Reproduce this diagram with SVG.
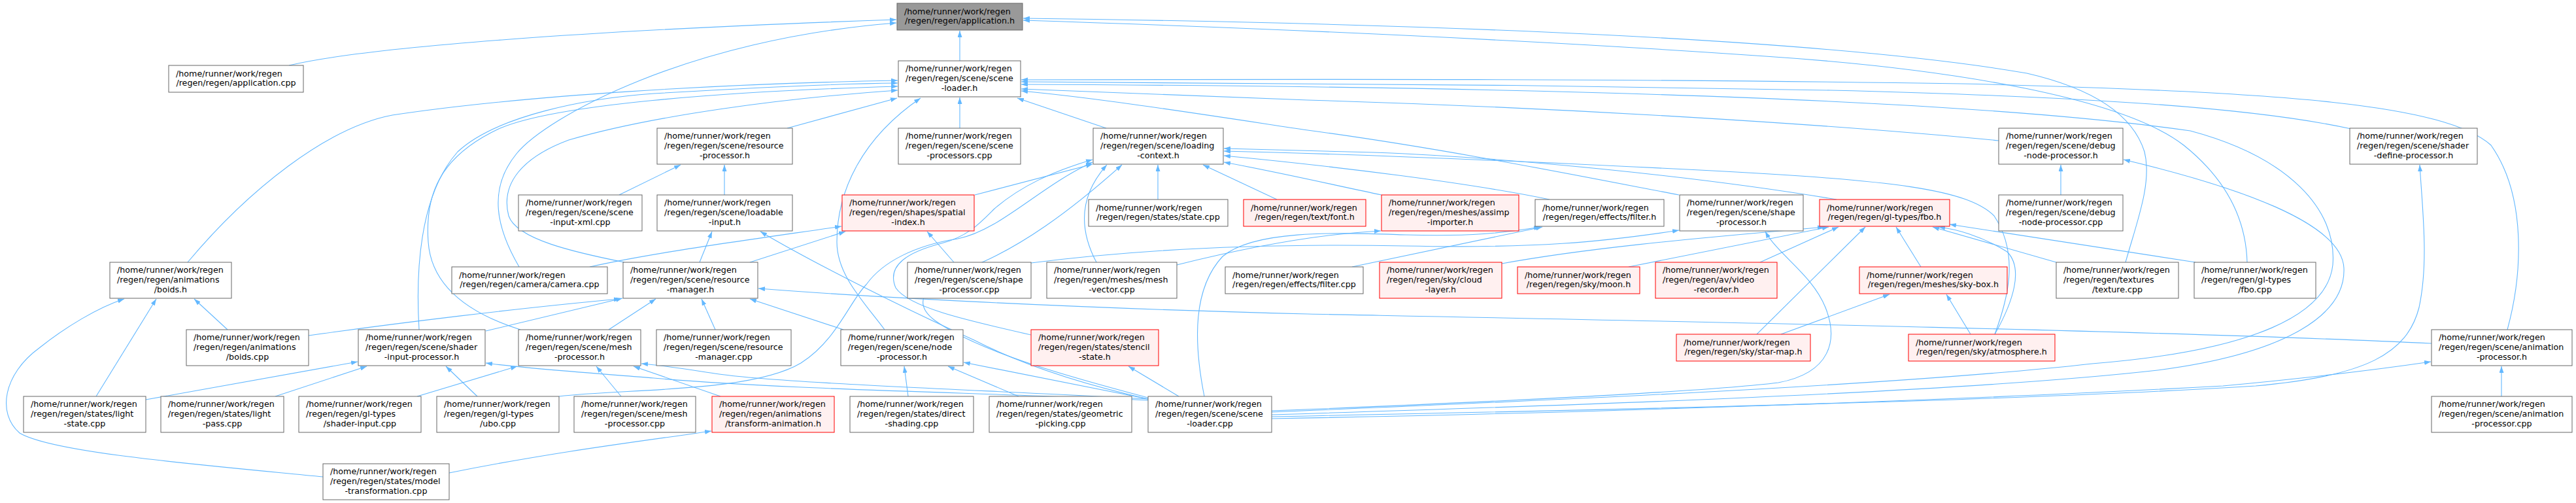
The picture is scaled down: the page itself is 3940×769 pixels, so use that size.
<svg xmlns="http://www.w3.org/2000/svg" width="3940" height="769" viewBox="0 0 3940 769">
<style>
.n rect{fill:#fff;stroke:#666;stroke-width:1}
.r rect{fill:#fff0f0;stroke:#f00;stroke-width:1}
.root rect{fill:#999;stroke:#666;stroke-width:1}
text{font-family:"DejaVu Sans","Liberation Sans",sans-serif;font-size:12.7px;fill:#000}
.c{text-anchor:middle}
#edges>path{fill:none;stroke:#63b8ff;stroke-width:1.1;marker-end:url(#ah)}
</style>
<defs>
<marker id="ah" viewBox="0 0 10 7" refX="10" refY="3.5" markerWidth="10" markerHeight="7" orient="auto" markerUnits="userSpaceOnUse"><path d="M0,0 L10,3.5 L0,7 z" fill="#63b8ff"/></marker>
</defs>
<rect width="3940" height="769" fill="#fff"/>
<g id="edges">
<path d="M442,100 C560,72 900,46 1371,30"/>
<path d="M794,408 C760,350 745,290 790,235 C835,180 1050,60 1371,35"/>
<path d="M1468,93 L1468,47"/>
<path d="M3251,401 C3268,340 3292,280 3280,232 C3262,175 3200,135 3100,112 C2800,60 2200,36 1565,28"/>
<path d="M3437,401 C3435,330 3400,270 3340,222 C3250,152 3000,106 2700,86 C2300,58 1900,42 1565,31"/>
<path d="M287,401 C380,290 500,195 600,176 C800,146 1100,128 1373,123"/>
<path d="M641,504 C636,420 640,300 700,232 C760,176 900,150 1000,143 C1150,134 1280,128 1373,127"/>
<path d="M796,504 C720,480 660,440 655,370 C650,300 670,240 765,196 C850,160 1100,140 1373,132"/>
<path d="M955,401 C880,386 790,366 778,330 C765,280 800,240 870,214 C1000,176 1200,150 1373,138"/>
<path d="M1204,196 L1372,150"/>
<path d="M1353,504 C1320,460 1280,420 1280,370 C1280,290 1320,210 1408,150"/>
<path d="M1468,196 L1468,149"/>
<path d="M1692,196 L1556,150"/>
<path d="M3835,504 C3858,420 3865,300 3810,222 C3740,160 3500,140 3000,128 C2500,120 2000,121 1562,122"/>
<path d="M3596,197 C3450,165 3200,148 2800,138 C2400,130 1900,126 1562,125"/>
<path d="M3057,215 C2800,190 2400,165 2000,153 C1800,146 1650,140 1562,136"/>
<path d="M1945,630 C2300,615 2900,590 3200,556 C3450,536 3560,480 3568,405 C3575,320 3500,240 3350,200 C3000,150 2300,132 1562,129"/>
<path d="M2568,298 C2380,262 2200,226 2000,199 C1820,172 1680,150 1562,139"/>
<path d="M1945,634 C2400,620 3000,600 3300,566 C3500,540 3588,480 3585,410 C3582,340 3420,285 3248,244"/>
<path d="M1945,637 C2500,626 3100,612 3450,590 C3620,575 3682,540 3700,470 C3715,400 3705,320 3701,252"/>
<path d="M1945,640 C2400,632 3000,612 3400,590 C3550,576 3650,563 3718,553"/>
<path d="M1945,628 C2200,618 2600,600 2720,585 C2800,570 2812,520 2792,470 C2772,420 2720,390 2700,354"/>
<path d="M1842,606 C1825,520 1825,440 1870,392 C1920,350 2050,356 2150,359 C2250,362 2300,356 2356,347"/>
<path d="M1800,405 C1900,380 2010,358 2112,353"/>
<path d="M855,606 C960,594 1150,600 1225,555 C1280,520 1300,460 1325,435 C1350,400 1400,375 1465,365 C1530,352 1590,285 1671,248"/>
<path d="M1577,512 C1480,490 1390,470 1370,440 C1355,405 1390,385 1440,372 C1480,362 1500,340 1520,320 C1560,285 1610,262 1671,244"/>
<path d="M1491,298 L1671,251"/>
<path d="M1677,401 C1650,350 1650,300 1693,252"/>
<path d="M1756,608 C1650,580 1500,540 1430,490 C1390,460 1420,430 1480,410 C1560,380 1640,320 1716,252"/>
<path d="M1771,305 L1771,252"/>
<path d="M1953,305 L1840,252"/>
<path d="M2809,305 C2600,270 2300,240 2100,233 C2000,230 1930,228 1872,227"/>
<path d="M3051,511 C3070,460 3090,390 3050,330 C3010,290 2900,275 2600,260 C2300,245 2050,235 1872,231"/>
<path d="M2370,305 C2250,280 2050,255 1872,238"/>
<path d="M2113,298 C2050,285 1950,262 1872,248"/>
<path d="M947,298 L1041,252"/>
<path d="M1108,298 L1108,252"/>
<path d="M1070,401 L1089,354"/>
<path d="M1756,610 C1650,586 1560,556 1490,520 C1380,470 1240,400 1163,354"/>
<path d="M902,408 C1000,386 1150,366 1287,346"/>
<path d="M1147,401 L1293,354"/>
<path d="M1459,401 L1418,354"/>
<path d="M348,504 L297,457"/>
<path d="M147,606 L239,457"/>
<path d="M494,729 C300,710 80,692 30,662 C-5,632 5,572 60,532 C100,500 150,470 190,457"/>
<path d="M472,513 C600,495 800,470 949,457"/>
<path d="M743,506 L952,456"/>
<path d="M931,504 L1003,457"/>
<path d="M1094,504 L1073,457"/>
<path d="M1290,504 L1147,457"/>
<path d="M3719,525 C3300,505 2500,490 2000,480 C1600,470 1300,452 1160,441"/>
<path d="M223,611 L547,553"/>
<path d="M421,606 L561,560"/>
<path d="M730,606 L682,560"/>
<path d="M1756,612 C1500,600 1200,596 1000,578 C900,570 800,563 743,555"/>
<path d="M638,606 L791,560"/>
<path d="M950,606 L912,560"/>
<path d="M1102,606 L969,560"/>
<path d="M1756,610 C1500,596 1200,586 1100,572 C1040,563 1010,558 981,556"/>
<path d="M687,723 C850,690 1000,672 1088,659"/>
<path d="M1389,606 L1383,560"/>
<path d="M1558,606 L1450,560"/>
<path d="M1756,610 L1474,554"/>
<path d="M1803,606 L1726,560"/>
<path d="M3152,298 L3152,252"/>
<path d="M3826,606 L3826,560"/>
<path d="M2068,408 L2359,347"/>
<path d="M1577,402 C1750,380 1950,372 2150,376 C2350,380 2450,370 2568,352"/>
<path d="M2297,403 C2450,375 2650,360 2790,347"/>
<path d="M2491,408 L2797,347"/>
<path d="M2692,401 L2812,347"/>
<path d="M2687,511 L2853,347"/>
<path d="M2938,408 L2900,347"/>
<path d="M3051,511 C3080,460 3095,410 3070,385 C3030,360 2990,350 2965,347"/>
<path d="M3145,401 L2956,347"/>
<path d="M3358,401 L2982,343"/>
<path d="M2724,511 L2890,450"/>
<path d="M3014,511 L2977,450"/>
</g>
<g id="apph" class="root"><rect x="1372" y="5" width="192" height="41"/><text x="1383" y="21.75">/home/runner/work/regen</text><text class="c" x="1468" y="36.45">/regen/regen/application.h</text></g>
<g id="appcpp" class="n"><rect x="258" y="100" width="206" height="41"/><text x="269" y="116.75">/home/runner/work/regen</text><text class="c" x="361" y="131.45">/regen/regen/application.cpp</text></g>
<g id="slh" class="n"><rect x="1374" y="93" width="187" height="55"/><text x="1385" y="109.4">/home/runner/work/regen</text><text x="1385" y="124.1">/regen/regen/scene/scene</text><text class="c" x="1467.5" y="138.8">-loader.h</text></g>
<g id="rph" class="n"><rect x="1005" y="196" width="207" height="55"/><text x="1016" y="212.4">/home/runner/work/regen</text><text x="1016" y="227.1">/regen/regen/scene/resource</text><text class="c" x="1108.5" y="241.8">-processor.h</text></g>
<g id="spc" class="n"><rect x="1374" y="196" width="187" height="55"/><text x="1385" y="212.4">/home/runner/work/regen</text><text x="1385" y="227.1">/regen/regen/scene/scene</text><text class="c" x="1467.5" y="241.8">-processors.cpp</text></g>
<g id="lch" class="n"><rect x="1672" y="196" width="199" height="55"/><text x="1683" y="212.4">/home/runner/work/regen</text><text x="1683" y="227.1">/regen/regen/scene/loading</text><text class="c" x="1771.5" y="241.8">-context.h</text></g>
<g id="dnph" class="n"><rect x="3057" y="196" width="190" height="55"/><text x="3068" y="212.4">/home/runner/work/regen</text><text x="3068" y="227.1">/regen/regen/scene/debug</text><text class="c" x="3152" y="241.8">-node-processor.h</text></g>
<g id="sdph" class="n"><rect x="3594" y="196" width="195" height="55"/><text x="3605" y="212.4">/home/runner/work/regen</text><text x="3605" y="227.1">/regen/regen/scene/shader</text><text class="c" x="3691.5" y="241.8">-define-processor.h</text></g>
<g id="sixml" class="n"><rect x="793" y="298" width="189" height="55"/><text x="804" y="314.4">/home/runner/work/regen</text><text x="804" y="329.1">/regen/regen/scene/scene</text><text class="c" x="887.5" y="343.8">-input-xml.cpp</text></g>
<g id="lih" class="n"><rect x="1005" y="298" width="207" height="55"/><text x="1016" y="314.4">/home/runner/work/regen</text><text x="1016" y="329.1">/regen/regen/scene/loadable</text><text class="c" x="1108.5" y="343.8">-input.h</text></g>
<g id="sih" class="r"><rect x="1288" y="298" width="202" height="55"/><text x="1299" y="314.4">/home/runner/work/regen</text><text x="1299" y="329.1">/regen/regen/shapes/spatial</text><text class="c" x="1389" y="343.8">-index.h</text></g>
<g id="statecpp" class="n"><rect x="1665" y="305" width="213" height="41"/><text x="1676" y="321.75">/home/runner/work/regen</text><text class="c" x="1771.5" y="336.45">/regen/regen/states/state.cpp</text></g>
<g id="font" class="r"><rect x="1902" y="305" width="187" height="41"/><text x="1913" y="321.75">/home/runner/work/regen</text><text class="c" x="1995.5" y="336.45">/regen/regen/text/font.h</text></g>
<g id="assimp" class="r"><rect x="2113" y="298" width="210" height="55"/><text x="2124" y="314.4">/home/runner/work/regen</text><text x="2124" y="329.1">/regen/regen/meshes/assimp</text><text class="c" x="2218" y="343.8">-importer.h</text></g>
<g id="filterh" class="n"><rect x="2348" y="305" width="197" height="41"/><text x="2359" y="321.75">/home/runner/work/regen</text><text class="c" x="2446.5" y="336.45">/regen/regen/effects/filter.h</text></g>
<g id="sph" class="n"><rect x="2569" y="298" width="189" height="55"/><text x="2580" y="314.4">/home/runner/work/regen</text><text x="2580" y="329.1">/regen/regen/scene/shape</text><text class="c" x="2663.5" y="343.8">-processor.h</text></g>
<g id="fboh" class="r"><rect x="2783" y="305" width="199" height="41"/><text x="2794" y="321.75">/home/runner/work/regen</text><text class="c" x="2882.5" y="336.45">/regen/regen/gl-types/fbo.h</text></g>
<g id="dnpcpp" class="n"><rect x="3057" y="298" width="190" height="55"/><text x="3068" y="314.4">/home/runner/work/regen</text><text x="3068" y="329.1">/regen/regen/scene/debug</text><text class="c" x="3152" y="343.8">-node-processor.cpp</text></g>
<g id="boidsh" class="n"><rect x="168" y="401" width="186" height="55"/><text x="179" y="417.4">/home/runner/work/regen</text><text x="179" y="432.1">/regen/regen/animations</text><text class="c" x="261" y="446.8">/boids.h</text></g>
<g id="camera" class="n"><rect x="691" y="408" width="238" height="41"/><text x="702" y="424.75">/home/runner/work/regen</text><text class="c" x="810" y="439.45">/regen/regen/camera/camera.cpp</text></g>
<g id="rmh" class="n"><rect x="953" y="401" width="206" height="55"/><text x="964" y="417.4">/home/runner/work/regen</text><text x="964" y="432.1">/regen/regen/scene/resource</text><text class="c" x="1056" y="446.8">-manager.h</text></g>
<g id="shpcpp" class="n"><rect x="1388" y="401" width="189" height="55"/><text x="1399" y="417.4">/home/runner/work/regen</text><text x="1399" y="432.1">/regen/regen/scene/shape</text><text class="c" x="1482.5" y="446.8">-processor.cpp</text></g>
<g id="meshvec" class="n"><rect x="1601" y="401" width="199" height="55"/><text x="1612" y="417.4">/home/runner/work/regen</text><text x="1612" y="432.1">/regen/regen/meshes/mesh</text><text class="c" x="1700.5" y="446.8">-vector.cpp</text></g>
<g id="filtercpp" class="n"><rect x="1874" y="408" width="211" height="41"/><text x="1885" y="424.75">/home/runner/work/regen</text><text class="c" x="1979.5" y="439.45">/regen/regen/effects/filter.cpp</text></g>
<g id="cloud" class="r"><rect x="2110" y="401" width="187" height="55"/><text x="2121" y="417.4">/home/runner/work/regen</text><text x="2121" y="432.1">/regen/regen/sky/cloud</text><text class="c" x="2203.5" y="446.8">-layer.h</text></g>
<g id="moon" class="r"><rect x="2321" y="408" width="187" height="41"/><text x="2332" y="424.75">/home/runner/work/regen</text><text class="c" x="2414.5" y="439.45">/regen/regen/sky/moon.h</text></g>
<g id="video" class="r"><rect x="2532" y="401" width="186" height="55"/><text x="2543" y="417.4">/home/runner/work/regen</text><text x="2543" y="432.1">/regen/regen/av/video</text><text class="c" x="2625" y="446.8">-recorder.h</text></g>
<g id="skybox" class="r"><rect x="2844" y="408" width="226" height="41"/><text x="2855" y="424.75">/home/runner/work/regen</text><text class="c" x="2957" y="439.45">/regen/regen/meshes/sky-box.h</text></g>
<g id="texcpp" class="n"><rect x="3145" y="401" width="187" height="55"/><text x="3156" y="417.4">/home/runner/work/regen</text><text x="3156" y="432.1">/regen/regen/textures</text><text class="c" x="3238.5" y="446.8">/texture.cpp</text></g>
<g id="fbocpp" class="n"><rect x="3356" y="401" width="186" height="55"/><text x="3367" y="417.4">/home/runner/work/regen</text><text x="3367" y="432.1">/regen/regen/gl-types</text><text class="c" x="3449" y="446.8">/fbo.cpp</text></g>
<g id="boidscpp" class="n"><rect x="285" y="504" width="187" height="55"/><text x="296" y="520.4">/home/runner/work/regen</text><text x="296" y="535.1">/regen/regen/animations</text><text class="c" x="378.5" y="549.8">/boids.cpp</text></g>
<g id="siph" class="n"><rect x="548" y="504" width="194" height="55"/><text x="559" y="520.4">/home/runner/work/regen</text><text x="559" y="535.1">/regen/regen/scene/shader</text><text class="c" x="645" y="549.8">-input-processor.h</text></g>
<g id="mph" class="n"><rect x="793" y="504" width="187" height="55"/><text x="804" y="520.4">/home/runner/work/regen</text><text x="804" y="535.1">/regen/regen/scene/mesh</text><text class="c" x="886.5" y="549.8">-processor.h</text></g>
<g id="rmcpp" class="n"><rect x="1004" y="504" width="206" height="55"/><text x="1015" y="520.4">/home/runner/work/regen</text><text x="1015" y="535.1">/regen/regen/scene/resource</text><text class="c" x="1107" y="549.8">-manager.cpp</text></g>
<g id="nph" class="n"><rect x="1286" y="504" width="187" height="55"/><text x="1297" y="520.4">/home/runner/work/regen</text><text x="1297" y="535.1">/regen/regen/scene/node</text><text class="c" x="1379.5" y="549.8">-processor.h</text></g>
<g id="stencil" class="r"><rect x="1577" y="504" width="195" height="55"/><text x="1588" y="520.4">/home/runner/work/regen</text><text x="1588" y="535.1">/regen/regen/states/stencil</text><text class="c" x="1674.5" y="549.8">-state.h</text></g>
<g id="starmap" class="r"><rect x="2564" y="511" width="205" height="41"/><text x="2575" y="527.75">/home/runner/work/regen</text><text class="c" x="2666.5" y="542.45">/regen/regen/sky/star-map.h</text></g>
<g id="atmos" class="r"><rect x="2919" y="511" width="224" height="41"/><text x="2930" y="527.75">/home/runner/work/regen</text><text class="c" x="3031" y="542.45">/regen/regen/sky/atmosphere.h</text></g>
<g id="aph" class="n"><rect x="3719" y="504" width="215" height="55"/><text x="3730" y="520.4">/home/runner/work/regen</text><text x="3730" y="535.1">/regen/regen/scene/animation</text><text class="c" x="3826.5" y="549.8">-processor.h</text></g>
<g id="lightstate" class="n"><rect x="36" y="606" width="187" height="55"/><text x="47" y="622.4">/home/runner/work/regen</text><text x="47" y="637.1">/regen/regen/states/light</text><text class="c" x="129.5" y="651.8">-state.cpp</text></g>
<g id="lightpass" class="n"><rect x="246" y="606" width="188" height="55"/><text x="257" y="622.4">/home/runner/work/regen</text><text x="257" y="637.1">/regen/regen/states/light</text><text class="c" x="340" y="651.8">-pass.cpp</text></g>
<g id="sicpp" class="n"><rect x="457" y="606" width="187" height="55"/><text x="468" y="622.4">/home/runner/work/regen</text><text x="468" y="637.1">/regen/regen/gl-types</text><text class="c" x="550.5" y="651.8">/shader-input.cpp</text></g>
<g id="ubo" class="n"><rect x="668" y="606" width="187" height="55"/><text x="679" y="622.4">/home/runner/work/regen</text><text x="679" y="637.1">/regen/regen/gl-types</text><text class="c" x="761.5" y="651.8">/ubo.cpp</text></g>
<g id="mpcpp" class="n"><rect x="878" y="606" width="186" height="55"/><text x="889" y="622.4">/home/runner/work/regen</text><text x="889" y="637.1">/regen/regen/scene/mesh</text><text class="c" x="971" y="651.8">-processor.cpp</text></g>
<g id="transanim" class="r"><rect x="1089" y="606" width="187" height="55"/><text x="1100" y="622.4">/home/runner/work/regen</text><text x="1100" y="637.1">/regen/regen/animations</text><text class="c" x="1182.5" y="651.8">/transform-animation.h</text></g>
<g id="dshading" class="n"><rect x="1300" y="606" width="189" height="55"/><text x="1311" y="622.4">/home/runner/work/regen</text><text x="1311" y="637.1">/regen/regen/states/direct</text><text class="c" x="1394.5" y="651.8">-shading.cpp</text></g>
<g id="gpicking" class="n"><rect x="1513" y="606" width="218" height="55"/><text x="1524" y="622.4">/home/runner/work/regen</text><text x="1524" y="637.1">/regen/regen/states/geometric</text><text class="c" x="1622" y="651.8">-picking.cpp</text></g>
<g id="slcpp" class="n"><rect x="1756" y="606" width="189" height="55"/><text x="1767" y="622.4">/home/runner/work/regen</text><text x="1767" y="637.1">/regen/regen/scene/scene</text><text class="c" x="1850.5" y="651.8">-loader.cpp</text></g>
<g id="apcpp" class="n"><rect x="3719" y="606" width="215" height="55"/><text x="3730" y="622.4">/home/runner/work/regen</text><text x="3730" y="637.1">/regen/regen/scene/animation</text><text class="c" x="3826.5" y="651.8">-processor.cpp</text></g>
<g id="modeltrans" class="n"><rect x="494" y="709" width="193" height="55"/><text x="505" y="725.4">/home/runner/work/regen</text><text x="505" y="740.1">/regen/regen/states/model</text><text class="c" x="590.5" y="754.8">-transformation.cpp</text></g>
</svg>
